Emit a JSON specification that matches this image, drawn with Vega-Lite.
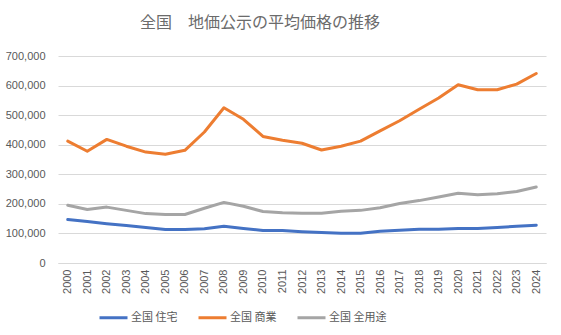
{
  "$schema": "https://vega.github.io/schema/vega-lite/v6.json",
  "autosize": "none",
  "width": 488,
  "height": 207,
  "padding": {"left": 58, "top": 56, "right": 15, "bottom": 72},
  "background": "white",
  "config": {
    "font": "Noto Sans CJK JP",
    "view": {"stroke": null}
  },
  "title": {
    "text": "全国　地価公示の平均価格の推移",
    "fontSize": 16,
    "fontWeight": "normal",
    "color": "#6b6b6b",
    "anchor": "middle",
    "dx": -42,
    "offset": 19
  },
  "data": {
    "values": [
      {"year": "2000", "series": "全国 住宅", "value": 147000},
      {"year": "2001", "series": "全国 住宅", "value": 140000},
      {"year": "2002", "series": "全国 住宅", "value": 133000},
      {"year": "2003", "series": "全国 住宅", "value": 127000},
      {"year": "2004", "series": "全国 住宅", "value": 120000},
      {"year": "2005", "series": "全国 住宅", "value": 113000},
      {"year": "2006", "series": "全国 住宅", "value": 113000},
      {"year": "2007", "series": "全国 住宅", "value": 116000},
      {"year": "2008", "series": "全国 住宅", "value": 124000},
      {"year": "2009", "series": "全国 住宅", "value": 117000},
      {"year": "2010", "series": "全国 住宅", "value": 110000},
      {"year": "2011", "series": "全国 住宅", "value": 110000},
      {"year": "2012", "series": "全国 住宅", "value": 106000},
      {"year": "2013", "series": "全国 住宅", "value": 103000},
      {"year": "2014", "series": "全国 住宅", "value": 101000},
      {"year": "2015", "series": "全国 住宅", "value": 101000},
      {"year": "2016", "series": "全国 住宅", "value": 107000},
      {"year": "2017", "series": "全国 住宅", "value": 111000},
      {"year": "2018", "series": "全国 住宅", "value": 114000},
      {"year": "2019", "series": "全国 住宅", "value": 114000},
      {"year": "2020", "series": "全国 住宅", "value": 117000},
      {"year": "2021", "series": "全国 住宅", "value": 117000},
      {"year": "2022", "series": "全国 住宅", "value": 120000},
      {"year": "2023", "series": "全国 住宅", "value": 124000},
      {"year": "2024", "series": "全国 住宅", "value": 128000},
      {"year": "2000", "series": "全国 商業", "value": 412000},
      {"year": "2001", "series": "全国 商業", "value": 378000},
      {"year": "2002", "series": "全国 商業", "value": 418000},
      {"year": "2003", "series": "全国 商業", "value": 395000},
      {"year": "2004", "series": "全国 商業", "value": 375000},
      {"year": "2005", "series": "全国 商業", "value": 368000},
      {"year": "2006", "series": "全国 商業", "value": 381000},
      {"year": "2007", "series": "全国 商業", "value": 443000},
      {"year": "2008", "series": "全国 商業", "value": 525000},
      {"year": "2009", "series": "全国 商業", "value": 486000},
      {"year": "2010", "series": "全国 商業", "value": 428000},
      {"year": "2011", "series": "全国 商業", "value": 415000},
      {"year": "2012", "series": "全国 商業", "value": 405000},
      {"year": "2013", "series": "全国 商業", "value": 382000},
      {"year": "2014", "series": "全国 商業", "value": 395000},
      {"year": "2015", "series": "全国 商業", "value": 412000},
      {"year": "2016", "series": "全国 商業", "value": 447000},
      {"year": "2017", "series": "全国 商業", "value": 481000},
      {"year": "2018", "series": "全国 商業", "value": 520000},
      {"year": "2019", "series": "全国 商業", "value": 558000},
      {"year": "2020", "series": "全国 商業", "value": 603000},
      {"year": "2021", "series": "全国 商業", "value": 586000},
      {"year": "2022", "series": "全国 商業", "value": 586000},
      {"year": "2023", "series": "全国 商業", "value": 605000},
      {"year": "2024", "series": "全国 商業", "value": 641000},
      {"year": "2000", "series": "全国 全用途", "value": 195000},
      {"year": "2001", "series": "全国 全用途", "value": 181000},
      {"year": "2002", "series": "全国 全用途", "value": 189000},
      {"year": "2003", "series": "全国 全用途", "value": 178000},
      {"year": "2004", "series": "全国 全用途", "value": 167000},
      {"year": "2005", "series": "全国 全用途", "value": 164000},
      {"year": "2006", "series": "全国 全用途", "value": 164000},
      {"year": "2007", "series": "全国 全用途", "value": 185000},
      {"year": "2008", "series": "全国 全用途", "value": 205000},
      {"year": "2009", "series": "全国 全用途", "value": 192000},
      {"year": "2010", "series": "全国 全用途", "value": 174000},
      {"year": "2011", "series": "全国 全用途", "value": 170000},
      {"year": "2012", "series": "全国 全用途", "value": 168000},
      {"year": "2013", "series": "全国 全用途", "value": 168000},
      {"year": "2014", "series": "全国 全用途", "value": 175000},
      {"year": "2015", "series": "全国 全用途", "value": 178000},
      {"year": "2016", "series": "全国 全用途", "value": 187000},
      {"year": "2017", "series": "全国 全用途", "value": 201000},
      {"year": "2018", "series": "全国 全用途", "value": 211000},
      {"year": "2019", "series": "全国 全用途", "value": 223000},
      {"year": "2020", "series": "全国 全用途", "value": 236000},
      {"year": "2021", "series": "全国 全用途", "value": 231000},
      {"year": "2022", "series": "全国 全用途", "value": 234000},
      {"year": "2023", "series": "全国 全用途", "value": 242000},
      {"year": "2024", "series": "全国 全用途", "value": 257000}
    ]
  },
  "mark": {"type": "line", "strokeWidth": 3, "strokeCap": "round", "strokeJoin": "round"},
  "encoding": {
    "x": {
      "field": "year",
      "type": "ordinal",
      "scale": {"type": "point", "padding": 0.5},
      "axis": {
        "title": null,
        "labelAngle": -90,
        "labelFontSize": 11,
        "labelColor": "#595959",
        "labelFont": "Liberation Sans",
        "domainColor": "#d9d9d9",
        "ticks": false,
        "labelPadding": 6,
        "grid": false
      }
    },
    "y": {
      "field": "value",
      "type": "quantitative",
      "scale": {"domain": [0, 700000], "nice": false},
      "axis": {
        "title": null,
        "values": [0, 100000, 200000, 300000, 400000, 500000, 600000, 700000],
        "format": ",d",
        "labelFontSize": 11,
        "labelColor": "#595959",
        "labelFont": "Liberation Sans",
        "domain": false,
        "ticks": false,
        "labelPadding": 13,
        "gridColor": "#d9d9d9",
        "gridWidth": 1
      }
    },
    "color": {
      "field": "series",
      "type": "nominal",
      "sort": ["全国 住宅", "全国 商業", "全国 全用途"],
      "scale": {
        "domain": ["全国 住宅", "全国 商業", "全国 全用途"],
        "range": ["#4472C4", "#ED7D31", "#A5A5A5"]
      },
      "legend": {
        "title": null,
        "orient": "none",
        "direction": "horizontal",
        "legendX": 40,
        "legendY": 246,
        "symbolType": "stroke",
        "symbolSize": 784,
        "symbolStrokeWidth": 3,
        "labelFontSize": 11,
        "labelColor": "#595959",
        "labelOffset": 2,
        "columnPadding": 14
      }
    }
  }
}
